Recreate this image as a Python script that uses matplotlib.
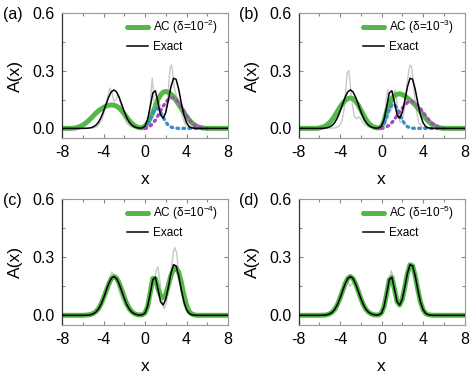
import numpy as np
import matplotlib
matplotlib.use("Agg")
import matplotlib.pyplot as plt
from matplotlib.ticker import MultipleLocator

plt.rcParams['font.family'] = ['Liberation Sans', 'DejaVu Sans']
plt.rcParams['mathtext.fontset'] = 'custom'
plt.rcParams['mathtext.rm'] = 'Liberation Sans'
plt.rcParams['axes.unicode_minus'] = False

# common x grid for the AC / exact curves (step 0.25 from -8 to 8)
X_GRID = np.arange(-8, 8.001, 0.25)
# grid for the two dotted components (0 .. 6)
X_PART = np.arange(0, 6.001, 0.25)

# exact spectrum, same in all panels
exact = [
    0, 0, 0, 0,
    0, 0, 0, 0,
    0, 0.0004, 0.001, 0.003,
    0.0075, 0.016, 0.031, 0.055,
    0.088, 0.126, 0.163, 0.190,
    0.200, 0.190, 0.163, 0.126,
    0.088, 0.055, 0.031, 0.016,
    0.0075, 0.003, 0.0012, 0.0024,
    0.0115, 0.046, 0.112, 0.184,
    0.196, 0.135, 0.070, 0.053,
    0.083, 0.146, 0.216, 0.261,
    0.255, 0.203, 0.132, 0.070,
    0.030, 0.010, 0.003, 0.001,
    0, 0, 0, 0,
    0, 0, 0, 0,
    0, 0, 0, 0,
    0,
]

ac_a = [
    0, 0, 0, 0,
    0.001, 0.002, 0.005, 0.010,
    0.017, 0.026, 0.037, 0.050,
    0.064, 0.078, 0.090, 0.100,
    0.109, 0.116, 0.120, 0.122,
    0.121, 0.116, 0.106, 0.092,
    0.075, 0.057, 0.040, 0.025,
    0.014, 0.007, 0.003, 0.004,
    0.012, 0.028, 0.052, 0.082,
    0.115, 0.150, 0.174, 0.188,
    0.192, 0.188, 0.178, 0.164,
    0.145, 0.125, 0.104, 0.083,
    0.063, 0.045, 0.030, 0.019,
    0.011, 0.006, 0.003, 0.001,
    0, 0, 0, 0,
    0, 0, 0, 0,
    0,
]

ac_b = [
    0, 0, 0, 0,
    0, 0, 0, 0,
    0.002, 0.005, 0.010, 0.018,
    0.030, 0.046, 0.066, 0.088,
    0.110, 0.130, 0.145, 0.155,
    0.158, 0.155, 0.142, 0.122,
    0.097, 0.071, 0.047, 0.028,
    0.015, 0.007, 0.003, 0.002,
    0.010, 0.040, 0.088, 0.128,
    0.155, 0.170, 0.178, 0.180,
    0.176, 0.168, 0.158, 0.147,
    0.135, 0.122, 0.106, 0.088,
    0.070, 0.053, 0.038, 0.026,
    0.017, 0.010, 0.005, 0.002,
    0, 0, 0, 0,
    0, 0, 0, 0,
    0,
]

ac_c = [
    0, 0, 0, 0,
    0, 0, 0, 0,
    0, 0.001, 0.002, 0.004,
    0.009, 0.018, 0.033, 0.057,
    0.089, 0.125, 0.160, 0.188,
    0.200, 0.193, 0.168, 0.132,
    0.094, 0.060, 0.035, 0.018,
    0.008, 0.003, 0.002, 0.003,
    0.012, 0.045, 0.115, 0.190,
    0.190, 0.138, 0.100, 0.090,
    0.108, 0.155, 0.205, 0.236,
    0.244, 0.222, 0.170, 0.105,
    0.052, 0.020, 0.007, 0.002,
    0, 0, 0, 0,
    0, 0, 0, 0,
    0, 0, 0, 0,
    0,
]

# delta = 1e-5: AC lies on top of the exact curve
ac_d = list(exact)

# dotted components, panels (a) and (b)
blue_a = [0, 0.015, 0.045, 0.080, 0.102, 0.103, 0.085, 0.058, 0.033, 0.016,
          0.007, 0.003, 0.001, 0, 0, 0, 0, 0, 0, 0, 0, 0, 0, 0, 0]
purple_a = [0, 0.004, 0.012, 0.025, 0.043, 0.066, 0.091, 0.115, 0.136, 0.151,
            0.159, 0.158, 0.150, 0.134, 0.113, 0.090, 0.067, 0.047, 0.030,
            0.018, 0.010, 0.005, 0.002, 0.001, 0]
blue_b = [0, 0.020, 0.058, 0.100, 0.123, 0.124, 0.105, 0.075, 0.045, 0.022,
          0.009, 0.003, 0.001, 0, 0, 0, 0, 0, 0, 0, 0, 0, 0, 0, 0]
purple_b = [0, 0.003, 0.008, 0.017, 0.030, 0.047, 0.066, 0.086, 0.105, 0.122,
            0.134, 0.140, 0.139, 0.132, 0.119, 0.103, 0.085, 0.066, 0.048,
            0.033, 0.021, 0.012, 0.006, 0.002, 0]

# light gray reference curves (irregular sampling)
gray_x_a = [-8, -5.0, -4.6, -4.2, -3.9, -3.6, -3.4, -3.2, -3.0, -2.8, -2.6, -2.4,
            -2.1, -1.8, -1.4, -1.0, -0.5, 0.0, 0.3, 0.5, 0.6, 0.7, 0.8, 0.9, 1.0,
            1.15, 1.3, 1.45, 1.6, 1.8, 2.0, 2.2, 2.35, 2.45, 2.55, 2.65, 2.8, 3.0,
            3.2, 3.4, 3.6, 3.9, 4.2, 4.6, 8]
gray_y_a = [0, 0.002, 0.01, 0.04, 0.09, 0.16, 0.21, 0.19, 0.14, 0.15, 0.175, 0.14,
            0.07, 0.03, 0.01, 0.003, 0.001, 0.006, 0.04, 0.12, 0.20, 0.26, 0.20,
            0.11, 0.09, 0.12, 0.15, 0.12, 0.07, 0.05, 0.08, 0.17, 0.27, 0.32, 0.33,
            0.30, 0.22, 0.17, 0.15, 0.11, 0.06, 0.02, 0.005, 0.001, 0]

gray_x_b = [-8, -4.5, -4.1, -3.8, -3.6, -3.45, -3.3, -3.15, -3.0, -2.8, -2.6, -2.4,
            -2.2, -2.0, -1.7, -1.3, -0.8, 0, 0.2, 0.35, 0.5, 0.6, 0.7, 0.85, 1.0,
            1.15, 1.3, 1.45, 1.6, 1.8, 2.0, 2.2, 2.4, 2.6, 2.75, 2.9, 3.05, 3.2,
            3.4, 3.6, 3.9, 4.3, 8]
gray_y_b = [0, 0.002, 0.01, 0.04, 0.10, 0.20, 0.29, 0.30, 0.22, 0.12, 0.06, 0.05,
            0.06, 0.05, 0.025, 0.008, 0.002, 0.005, 0.03, 0.09, 0.17, 0.20, 0.16,
            0.09, 0.10, 0.17, 0.20, 0.15, 0.07, 0.03, 0.04, 0.10, 0.20, 0.29, 0.33,
            0.32, 0.25, 0.16, 0.08, 0.03, 0.008, 0.001, 0]

gray_x_c = [-8, -5.2, -4.8, -4.4, -4.0, -3.7, -3.45, -3.2, -2.95, -2.7, -2.4, -2.0,
            -1.6, -1.2, -0.8, -0.4, 0, 0.25, 0.5, 0.75, 0.95, 1.1, 1.25, 1.45,
            1.65, 1.85, 2.05, 2.3, 2.55, 2.75, 2.9, 3.05, 3.25, 3.5, 3.75, 4.0,
            4.3, 4.6, 8]
gray_y_c = [0, 0.004, 0.012, 0.035, 0.085, 0.14, 0.19, 0.224, 0.205, 0.165, 0.11,
            0.055, 0.022, 0.007, 0.002, 0.001, 0.008, 0.035, 0.09, 0.15, 0.19,
            0.235, 0.25, 0.17, 0.07, 0.035, 0.06, 0.14, 0.25, 0.33, 0.348, 0.32,
            0.22, 0.12, 0.055, 0.02, 0.005, 0.001, 0]

gray_x_d = [-8, -5.2, -4.8, -4.4, -4.0, -3.75, -3.5, -3.3, -3.05, -2.8, -2.55,
            -2.3, -2.0, -1.6, -1.2, -0.8, -0.4, 0, 0.25, 0.5, 0.75, 0.95, 1.15,
            1.35, 1.55, 1.8, 2.0, 2.25, 2.5, 2.75, 3.0, 3.25, 3.5, 3.75, 4.0, 4.3,
            4.6, 8]
gray_y_d = [0, 0.004, 0.012, 0.035, 0.09, 0.15, 0.185, 0.175, 0.15, 0.165, 0.178,
            0.15, 0.09, 0.035, 0.01, 0.003, 0.001, 0.01, 0.045, 0.11, 0.19, 0.23,
            0.19, 0.11, 0.06, 0.05, 0.08, 0.15, 0.22, 0.26, 0.255, 0.2, 0.13, 0.07,
            0.03, 0.008, 0.002, 0]

panel_labels = ['(a)', '(b)', '(c)', '(d)']
delta_exps = [-2, -3, -4, -5]

GREEN = '#55b74a'
BLUE = '#3a8ad4'
PURPLE = '#a44bb8'
GRAY = '#c8c8c8'


def plot_panel(ax, ac, gray_x, gray_y, exp, blue=None, purple=None):
    """one panel: gray reference, AC (green), components, exact (black)"""
    ax.plot(gray_x, gray_y, color=GRAY, lw=1.0, zorder=1)
    ax.plot(X_GRID, ac, color=GREEN, lw=3.6, solid_capstyle='round', zorder=2,
            label='AC (δ=10$^{%d}$)' % exp)
    if blue is not None:
        ax.plot(X_PART, blue, color=BLUE, lw=2.4, ls=(0, (0.5, 1.3)),
                dash_capstyle='round', zorder=3)
        ax.plot(X_PART, purple, color=PURPLE, lw=2.4, ls=(0, (0.5, 1.3)),
                dash_capstyle='round', zorder=3)
    ax.plot(X_GRID, exact, color='black', lw=1.1, zorder=4, label='Exact')

    ax.set_xlim(-8, 8)
    ax.set_ylim(-0.05, 0.6)
    ax.xaxis.set_major_locator(MultipleLocator(4))
    ax.xaxis.set_minor_locator(MultipleLocator(2))
    ax.yaxis.set_major_locator(MultipleLocator(0.3))
    ax.yaxis.set_minor_locator(MultipleLocator(0.15))
    ax.yaxis.set_major_formatter(matplotlib.ticker.FormatStrFormatter('%.1f'))
    ax.tick_params(which='both', direction='in', top=True, right=True,
                   color='#888888', labelsize=11.5)
    ax.tick_params(which='major', length=3.0, width=0.8, pad=5)
    ax.tick_params(which='minor', length=2.0, width=0.8)
    for side in ['top', 'right', 'bottom']:
        ax.spines[side].set_color('#999999')
        ax.spines[side].set_linewidth(0.8)
    ax.spines['left'].set_color('#333333')
    ax.spines['left'].set_linewidth(0.9)

    ax.set_xlabel('x', fontsize=12.5, labelpad=9)
    ax.set_ylabel('A(x)', fontsize=12.5, labelpad=7)
    ax.legend(loc='upper left', bbox_to_anchor=(0.39, 0.96), frameon=False,
              fontsize=8.5, handlelength=1.8, handletextpad=0.4,
              labelspacing=0.4, borderpad=0, borderaxespad=0)


fig = plt.figure(figsize=(4.74, 3.75), dpi=100)
positions = [
    [62 / 474, 1 - 138 / 375, 166 / 474, 125 / 375],
    [298.5 / 474, 1 - 138 / 375, 166 / 474, 125 / 375],
    [62 / 474, 1 - 325 / 375, 166 / 474, 126 / 375],
    [298.5 / 474, 1 - 325 / 375, 166 / 474, 126 / 375],
]
acs = [ac_a, ac_b, ac_c, ac_d]
grays = [(gray_x_a, gray_y_a), (gray_x_b, gray_y_b),
         (gray_x_c, gray_y_c), (gray_x_d, gray_y_d)]
comps = [(blue_a, purple_a), (blue_b, purple_b), (None, None), (None, None)]

for i in range(4):
    ax = fig.add_axes(positions[i])
    plot_panel(ax, acs[i], grays[i][0], grays[i][1], delta_exps[i],
               blue=comps[i][0], purple=comps[i][1])
    # panel label at the top left corner, outside the axes
    px = 3 if i % 2 == 0 else 239
    py = 15 if i < 2 else 200
    fig.text(px / 474, 1 - py / 375, panel_labels[i], fontsize=11.5,
             ha='left', va='center')

fig.savefig('out.png', dpi=100)
